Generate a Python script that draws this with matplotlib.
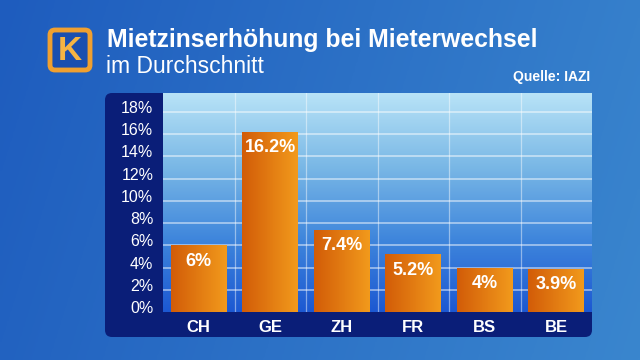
import numpy as np
import matplotlib
matplotlib.use('Agg')
import matplotlib.pyplot as plt
from matplotlib.patches import FancyBboxPatch
from matplotlib.colors import LinearSegmentedColormap
from matplotlib.transforms import ScaledTranslation

plt.rcParams['font.family'] = ['Liberation Sans', 'DejaVu Sans']

# data
categories = ['CH', 'GE', 'ZH', 'FR', 'BS', 'BE']
values = [6.0, 16.2, 7.4, 5.2, 4.0, 3.9]
value_labels = ['6%', '16.2%', '7.4%', '5.2%', '4%', '3.9%']
yticks = [0, 2, 4, 6, 8, 10, 12, 14, 16, 18]
ytick_labels = [f'{t}%' for t in yticks]

title = 'Mietzinserhöhung bei Mieterwechsel'
subtitle = 'im Durchschnitt'
source = 'Quelle: IAZI'

W, H = 640, 360
fig = plt.figure(figsize=(6.4, 3.6), dpi=100)

# background (pixel coordinates)
bg = fig.add_axes([0, 0, 1, 1])
bg.set_xlim(0, W)
bg.set_ylim(H, 0)
bg.axis('off')
gx = np.linspace(0, 1, 200)
gy = np.linspace(0, 1, 120)[:, None]
left_c = np.array([30, 92, 190]) / 255
right_c = np.array([58, 134, 206]) / 255
mix = gx[None, :] * 0.85 + gy * 0.15
img = left_c[None, None, :] * (1 - mix[..., None]) + right_c[None, None, :] * mix[..., None]
bg.imshow(img, extent=[0, W, H, 0], aspect='auto', zorder=0)

# navy panel
panel = FancyBboxPatch((105, 93), 487, 244, boxstyle='round,pad=0,rounding_size=7',
                       fc='#0a1e78', ec='none', zorder=1)
bg.add_patch(panel)

# logo
logo = FancyBboxPatch((50, 30), 40, 40, boxstyle='round,pad=0,rounding_size=5',
                      fc='#1b4fb0', ec='#f0a030', lw=3.5, zorder=2)
bg.add_patch(logo)
bg.text(70, 51, 'K', color='#f6b443', fontsize=24, fontweight='bold',
        ha='center', va='center', zorder=3)

bg.text(107, 47, title, color='white', fontsize=17.8, fontweight='bold',
        ha='left', va='baseline', zorder=3)
bg.text(106, 73, subtitle, color='white', fontsize=16.5,
        ha='left', va='baseline', zorder=3)
bg.text(590, 81, source, color='white', fontsize=10, fontweight='bold',
        ha='right', va='baseline', zorder=3)

# chart axes
ax = fig.add_axes([163 / W, 1 - 312 / H, 429 / W, 219 / H])
x = np.arange(len(categories))
ax.set_xlim(-0.5, len(categories) - 0.5)
ax.set_ylim(0, 19.7)

plot_cmap = LinearSegmentedColormap.from_list(
    'plot', ['#1c58d2', '#3f86dc', '#7ab8e6', '#b8e3f7'])
grad = np.linspace(0, 1, 256)[:, None]
ax.imshow(grad, cmap=plot_cmap, origin='lower', aspect='auto',
          extent=[-0.5, len(categories) - 0.5, 0, 19.7], zorder=0)

for t in yticks[1:]:
    ax.axhline(t, color='white', alpha=0.55, lw=1.2, zorder=1)
for b in x[:-1] + 0.5:
    ax.axvline(b, color='white', alpha=0.45, lw=0.9, zorder=1)

bars = ax.bar(x, values, width=0.78, color='#e57a12', zorder=2)
bar_cmap = LinearSegmentedColormap.from_list('bar', ['#d25c08', '#f29a1c'])
hgrad = np.linspace(0, 1, 128)[None, :]
for bar, lab in zip(bars, value_labels):
    bx, bw, bh = bar.get_x(), bar.get_width(), bar.get_height()
    im = ax.imshow(hgrad, cmap=bar_cmap, aspect='auto',
                   extent=[bx, bx + bw, 0, bh], zorder=3)
    im.set_clip_path(bar)
    ax.annotate(lab, (bx + bw / 2, bh), xytext=(0, -16), textcoords='offset pixels',
                ha='center', va='center', color='white', fontsize=13,
                fontweight='bold', zorder=4)

ax.set_xticks(x)
ax.set_xticklabels(categories, color='white', fontsize=12, fontweight='bold')
ax.set_yticks(yticks)
ax.set_yticklabels(ytick_labels, color='white', fontsize=11.5)
ax.tick_params(length=0)
ax.tick_params(axis='x', pad=6)
ax.tick_params(axis='y', pad=7)
for lab in ax.get_yticklabels():
    lab.set_transform(lab.get_transform() + ScaledTranslation(0, 0.05, fig.dpi_scale_trans))
for s in ax.spines.values():
    s.set_visible(False)

fig.savefig('out.png', dpi=100)
